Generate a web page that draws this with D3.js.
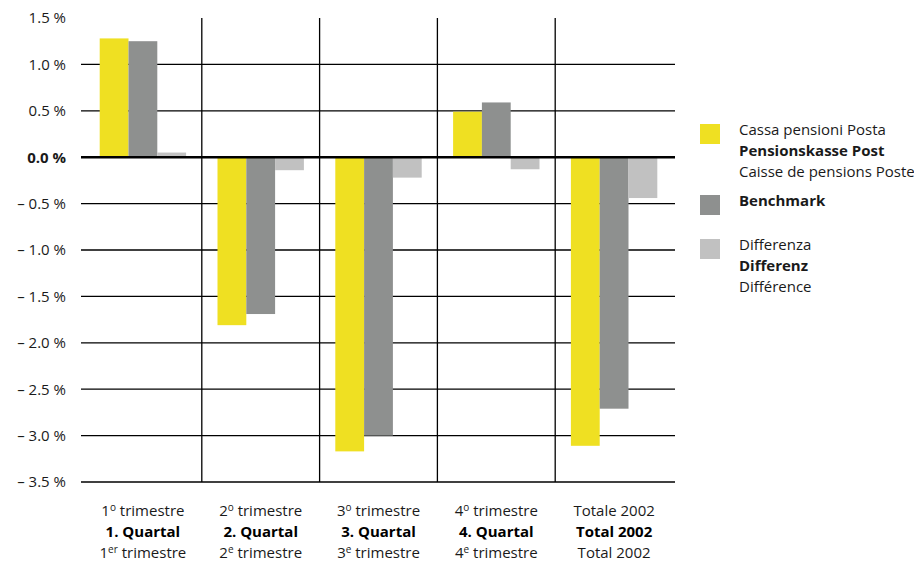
<!DOCTYPE html>
<html>
<head>
<meta charset="utf-8">
<script src="https://cdn.jsdelivr.net/npm/d3@7"></script>
<style>
  body { margin: 0; background: #fff; }
  svg { display: block; font-family: "Open Sans", sans-serif; }
</style>
</head>
<body>
<div id="chart"></div>
<script>
// data
const categories = ["Q1", "Q2", "Q3", "Q4", "Total"];
const cassa = [1.28, -1.81, -3.17, 0.49, -3.11];
const benchmark = [1.25, -1.69, -3.0, 0.59, -2.71];
const differenz = [0.05, -0.14, -0.22, -0.13, -0.44];
const yTicks = [1.5, 1.0, 0.5, 0.0, -0.5, -1.0, -1.5, -2.0, -2.5, -3.0, -3.5];

// category labels: [number, superscript, rest] for line 1 and 3, line 2 bold
const labelLine1 = [["1", "o", " trimestre"], ["2", "o", " trimestre"], ["3", "o", " trimestre"], ["4", "o", " trimestre"], ["Totale 2002", "", ""]];
const labelLine2 = ["1. Quartal", "2. Quartal", "3. Quartal", "4. Quartal", "Total 2002"];
const labelLine3 = [["1", "er", " trimestre"], ["2", "e", " trimestre"], ["3", "e", " trimestre"], ["4", "e", " trimestre"], ["Total 2002", "", ""]];

const legendItems = [
  { color: "#efe022", lines: [["Cassa pensioni Posta", 400], ["Pensionskasse Post", 700], ["Caisse de pensions Poste", 400]] },
  { color: "#8e908f", lines: [["Benchmark", 700]] },
  { color: "#c1c1c1", lines: [["Differenza", 400], ["Differenz", 700], ["Différence", 400]] }
];

const width = 914, height = 562;
const marginTop = 18, marginLeft = 81, plotRight = 675, plotBottom = 482;
const fontSize = 15;
const colors = ["#efe022", "#8e908f", "#c1c1c1"];
const series = [cassa, benchmark, differenz];

const svg = d3.select("#chart")
  .append("svg")
  .attr("width", width)
  .attr("height", height)
  .attr("viewBox", [0, 0, width, height]);

// scales
const xScale = d3.scaleBand(categories, [marginLeft + 3, plotRight - 2]);
const barW = 28.8;
const yScale = d3.scaleLinear([-3.5, 1.5], [plotBottom, marginTop]);

// horizontal grid lines (not at top)
svg.append("g")
  .selectAll("line")
  .data(yTicks.filter((d) => d !== 1.5))
  .join("line")
  .attr("x1", marginLeft)
  .attr("x2", plotRight)
  .attr("y1", (d) => yScale(d))
  .attr("y2", (d) => yScale(d))
  .attr("stroke", "#000")
  .attr("stroke-width", (d) => (d === 0 ? 0 : 1.3));

// vertical dividers
svg.append("g")
  .selectAll("line")
  .data(categories.slice(1))
  .join("line")
  .attr("x1", (d) => xScale(d))
  .attr("x2", (d) => xScale(d))
  .attr("y1", yScale(1.5))
  .attr("y2", yScale(-3.5))
  .attr("stroke", "#000")
  .attr("stroke-width", 1.3);

// bars
series.forEach((vals, s) => {
  svg.append("g")
    .selectAll("rect")
    .data(categories)
    .join("rect")
    .attr("x", (d) => xScale(d) + xScale.bandwidth() / 2 - 1.5 * barW + s * barW)
    .attr("y", (d, i) => yScale(Math.max(0, vals[i])))
    .attr("width", barW)
    .attr("height", (d, i) => Math.abs(yScale(vals[i]) - yScale(0)))
    .attr("fill", colors[s]);
});

// zero line on top
svg.append("line")
  .attr("x1", marginLeft)
  .attr("x2", plotRight)
  .attr("y1", yScale(0))
  .attr("y2", yScale(0))
  .attr("stroke", "#000")
  .attr("stroke-width", 2.6);

// y labels
svg.append("g")
  .selectAll("text")
  .data(yTicks)
  .join("text")
  .attr("x", 66)
  .attr("y", (d) => yScale(d))
  .attr("dy", "0.36em")
  .attr("text-anchor", "end")
  .attr("font-size", fontSize)
  .attr("font-weight", (d) => (d === 0 ? 700 : 400))
  .attr("fill", "#1a1a1a")
  .text((d) => (d < 0 ? "– " : "") + Math.abs(d).toFixed(1) + " %");

// x labels
const xl = svg.append("g")
  .selectAll("g")
  .data(categories)
  .join("g")
  .attr("transform", (d) => `translate(${xScale(d) + xScale.bandwidth() / 2},0)`);

function supLine(sel, parts, y) {
  const t = sel.append("text")
    .attr("y", y)
    .attr("text-anchor", "middle")
    .attr("font-size", fontSize)
    .attr("fill", "#1a1a1a");
  t.append("tspan").text(parts[0]);
  if (parts[1]) {
    t.append("tspan").attr("font-size", 10).attr("dy", -5).text(parts[1]);
    t.append("tspan").attr("dy", 5).text(parts[2]);
  }
}

xl.each(function (d, i) {
  const g = d3.select(this);
  supLine(g, labelLine1[i], 516);
  g.append("text")
    .attr("y", 537)
    .attr("text-anchor", "middle")
    .attr("font-size", fontSize)
    .attr("font-weight", 700)
    .attr("fill", "#000")
    .text(labelLine2[i]);
  supLine(g, labelLine3[i], 558);
});

// legend
const legendTops = [124, 195, 239];
legendItems.forEach((item, k) => {
  const g = svg.append("g").attr("transform", `translate(700,${legendTops[k]})`);
  g.append("rect").attr("width", 20).attr("height", 20).attr("fill", item.color);
  item.lines.forEach(([txt, w], j) => {
    g.append("text")
      .attr("x", 39)
      .attr("y", 11 + j * 21)
      .attr("font-size", fontSize)
      .attr("font-weight", w)
      .attr("fill", "#1a1a1a")
      .text(txt);
  });
});
</script>
</body>
</html>
